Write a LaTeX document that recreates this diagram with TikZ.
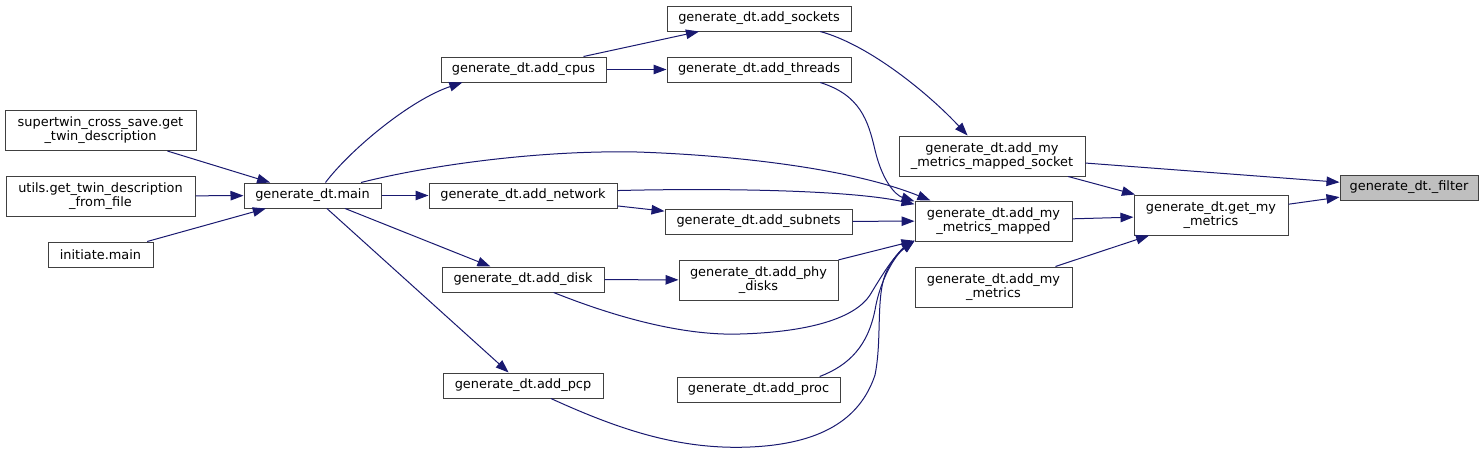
\documentclass[tikz,border=0pt]{standalone}
\usepackage{fontspec}
\setmainfont{DejaVu Sans}
\usetikzlibrary{arrows.meta}
\definecolor{edgeblue}{HTML}{191970}
\definecolor{boxline}{HTML}{404040}
\definecolor{hlgray}{HTML}{BFBFBF}

\begin{document}
\begin{tikzpicture}[
    x=1pt, y=-1pt,
    func/.style={
        draw=boxline, line width=1pt, align=center,
        inner xsep=2pt, inner ysep=1pt, minimum height=25pt,
        font=\fontsize{12.9}{14}\selectfont
    },
    dbl/.style={func, minimum height=40pt},
    focus/.style={func, fill=hlgray},
    arrow/.style={-{Triangle[length=13pt,width=9.5pt]}, edgeblue, line width=1pt}
]
  \fill[white] (0,0) rectangle (1483,453);

  % Callers on the left
  \node[dbl, minimum width=191pt]  (crosssave) at (100.5,130.5) {supertwin\_cross\_save.get\\\_twin\_description};
  \node[dbl, minimum width=189pt]  (utils)     at (100.5,196)   {utils.get\_twin\_description\\\_from\_file};
  \node[func, minimum width=105pt] (initiate)  at (100.5,254.5) {initiate.main};
  \node[func, minimum width=137pt] (main)      at (312.5,195.5) {generate\_dt.main};

  % Middle columns
  \node[func, minimum width=165pt] (cpus)     at (523.5,69.5)  {generate\_dt.add\_cpus};
  \node[func, minimum width=188pt] (network)  at (523,195.5)   {generate\_dt.add\_network};
  \node[func, minimum width=162pt] (disk)     at (523,279.5)   {generate\_dt.add\_disk};
  \node[func, minimum width=160pt] (pcp)      at (523,385.5)   {generate\_dt.add\_pcp};
  \node[func, minimum width=184pt] (sockets)  at (759,18.5)    {generate\_dt.add\_sockets};
  \node[func, minimum width=184pt] (threads)  at (759,69.5)    {generate\_dt.add\_threads};
  \node[func, minimum width=187pt] (subnets)  at (758.5,221.5) {generate\_dt.add\_subnets};
  \node[dbl, minimum width=159pt]  (phydisks) at (758.5,280)   {generate\_dt.add\_phy\\\_disks};
  \node[func, minimum width=163pt] (proc)     at (758.5,389.5) {generate\_dt.add\_proc};

  % Right side
  \node[dbl, minimum width=186pt]    (mapsock) at (992,156)     {generate\_dt.add\_my\\\_metrics\_mapped\_socket};
  \node[dbl, minimum width=157pt]    (mapped)  at (993.5,221)   {generate\_dt.add\_my\\\_metrics\_mapped};
  \node[dbl, minimum width=157pt]    (addmy)   at (993.5,287)   {generate\_dt.add\_my\\\_metrics};
  \node[dbl, minimum width=154pt]    (getmy)   at (1211,215)    {generate\_dt.get\_my\\\_metrics};
  \node[focus, minimum width=138pt]  (filter)  at (1409,187.5)  {generate\_dt.\_filter};

  % Straight calls
  \draw[arrow] (crosssave) -- (main);
  \draw[arrow] (utils) -- (main);
  \draw[arrow] (initiate) -- (main);
  \draw[arrow] (main) -- (network);
  \draw[arrow] (main) -- (disk);
  \draw[arrow] (main) -- (pcp);
  \draw[arrow] (cpus) -- (sockets);
  \draw[arrow] (cpus) -- (threads);
  \draw[arrow] (network) -- (subnets);
  \draw[arrow] (subnets) -- (mapped);
  \draw[arrow] (disk) -- (phydisks);
  \draw[arrow] (phydisks) -- (mapped);
  \draw[arrow] (mapsock) -- (getmy);
  \draw[arrow] (mapsock) -- (filter);
  \draw[arrow] (mapped) -- (getmy);
  \draw[arrow] (addmy) -- (getmy);
  \draw[arrow] (getmy) -- (filter);

  % Curved calls
  \draw[arrow] (main.45) .. controls (350,150) and (410,100) .. (cpus.-168);
  \draw[arrow] (main.15) .. controls (430,165) and (540,150) .. (637,152)
                         .. controls (730,155) and (850,168) .. (mapped.162);
  \draw[arrow] (sockets.-12) .. controls (870,45) and (930,95) .. (mapsock.140);
  \draw[arrow] (threads.-12) .. controls (860,95) and (868,120) .. (875,150)
                             .. controls (882,180) and (895,195) .. (mapped.166);
  \draw[arrow] (network.3) .. controls (720,188) and (850,190) .. (mapped.168);
  \draw[arrow] (disk.-23) .. controls (610,315) and (680,336) .. (740,334)
                          .. controls (810,332) and (855,318) .. (870,295)
                          .. controls (885,270) and (895,255) .. (mapped.-166);
  \draw[arrow] (proc.12) .. controls (850,365) and (868,345) .. (875,310)
                         .. controls (880,280) and (895,255) .. (mapped.-166);
  \draw[arrow] (pcp.-25) .. controls (620,430) and (680,450) .. (750,447)
                         .. controls (820,444) and (860,420) .. (875,375)
                         .. controls (882,340) and (876,300) .. (885,275)
                         .. controls (892,258) and (903,248) .. (mapped.-166);
\end{tikzpicture}
\end{document}
